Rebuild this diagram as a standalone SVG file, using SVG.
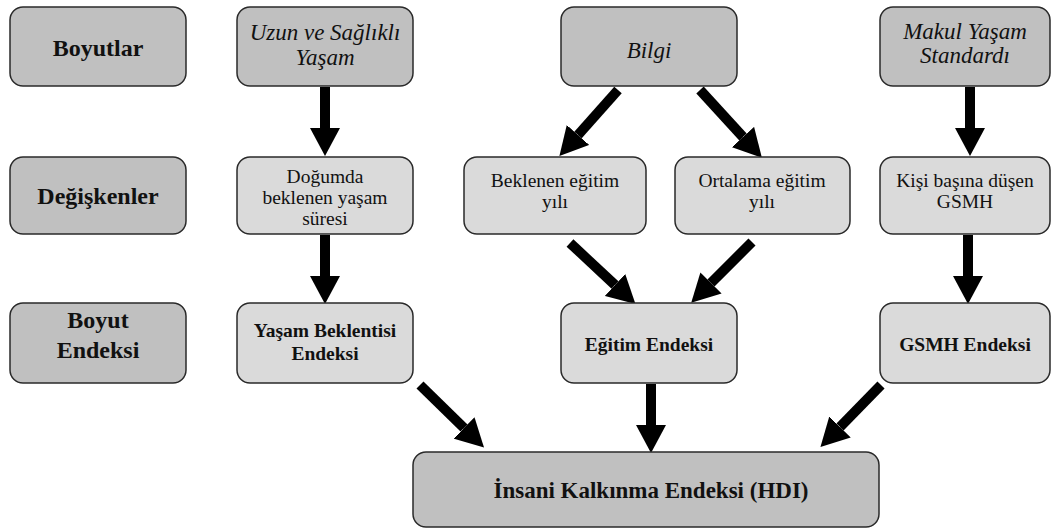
<svg xmlns="http://www.w3.org/2000/svg" width="1058" height="529" viewBox="0 0 1058 529">
<defs>
<style>
.dk{fill:#c0c0c0;stroke:#2a2a2a;stroke-width:1.5}
.lt{fill:#dadada;stroke:#2a2a2a;stroke-width:1.5}
text{fill:#111;text-anchor:middle;font-family:'Liberation Serif',Tinos,'Times New Roman',Times,'DejaVu Serif','Noto Serif',FreeSerif,serif}
.hb{font-weight:bold;font-size:24px}
.it{font-style:italic;font-size:23px}
.rg{font-size:19.5px}
.sb{font-weight:bold;font-size:19.5px}
.hdi{font-weight:bold;font-size:23px}
.ar{stroke:#000;stroke-width:10;fill:none;marker-end:url(#ah)}
</style>
<marker id="ah" markerUnits="userSpaceOnUse" viewBox="0 -15 28 30" refX="0" refY="0" markerWidth="28" markerHeight="30" orient="auto">
<path d="M0,-15 L28,0 L0,15 Z" fill="#000"/>
</marker>
</defs>
<g id="connectors">
<line class="ar" x1="325" y1="87" x2="325" y2="128"/>
<line class="ar" x1="618" y1="90" x2="578" y2="135"/>
<line class="ar" x1="700" y1="90" x2="743" y2="137"/>
<line class="ar" x1="970" y1="87" x2="970" y2="128"/>
<line class="ar" x1="325" y1="235" x2="325" y2="276"/>
<line class="ar" x1="570" y1="243" x2="615" y2="285"/>
<line class="ar" x1="752" y1="242" x2="711" y2="283"/>
<line class="ar" x1="968" y1="235" x2="968" y2="276"/>
<line class="ar" x1="420" y1="385" x2="464" y2="428"/>
<line class="ar" x1="651" y1="384" x2="651" y2="425"/>
<line class="ar" x1="881" y1="385" x2="840" y2="427"/>
</g>
<g id="n-boyutlar"><rect class="dk" x="10" y="7" width="176" height="79" rx="13"/><text class="hb" x="98" y="56">Boyutlar</text></g>
<g id="n-uzun"><rect class="dk" x="237" y="7" width="176" height="79" rx="13"/><text class="it" x="325" y="40">Uzun ve Sağlıklı</text><text class="it" x="325" y="65">Yaşam</text></g>
<g id="n-bilgi"><rect class="dk" x="561" y="7" width="176" height="79" rx="13"/><text class="it" x="649" y="58">Bilgi</text></g>
<g id="n-makul"><rect class="dk" x="880" y="7" width="170" height="79" rx="13"/><text class="it" x="965" y="39">Makul Yaşam</text><text class="it" x="965" y="63">Standardı</text></g>
<g id="n-degiskenler"><rect class="dk" x="10" y="157" width="176" height="77" rx="13"/><text class="hb" x="98" y="204">Değişkenler</text></g>
<g id="n-dogumda"><rect class="lt" x="237" y="157" width="176" height="77" rx="13"/><text class="rg" x="325" y="183">Doğumda</text><text class="rg" x="325" y="204">beklenen yaşam</text><text class="rg" x="325" y="225">süresi</text></g>
<g id="n-beklenen"><rect class="lt" x="464" y="157" width="182" height="77" rx="13"/><text class="rg" x="555" y="187">Beklenen eğitim</text><text class="rg" x="555" y="208">yılı</text></g>
<g id="n-ortalama"><rect class="lt" x="675" y="157" width="175" height="77" rx="13"/><text class="rg" x="762" y="187">Ortalama eğitim</text><text class="rg" x="762" y="208">yılı</text></g>
<g id="n-kisi"><rect class="lt" x="880" y="157" width="170" height="77" rx="13"/><text class="rg" x="965" y="187">Kişi başına düşen</text><text class="rg" x="965" y="208">GSMH</text></g>
<g id="n-boyut-endeksi"><rect class="dk" x="10" y="303" width="176" height="80" rx="13"/><text class="hb" x="98" y="328">Boyut</text><text class="hb" x="98" y="358">Endeksi</text></g>
<g id="n-yasam"><rect class="lt" x="237" y="303" width="176" height="80" rx="13"/><text class="sb" x="325" y="337">Yaşam Beklentisi</text><text class="sb" x="325" y="360">Endeksi</text></g>
<g id="n-egitim"><rect class="lt" x="561" y="303" width="176" height="80" rx="13"/><text class="sb" x="649" y="351">Eğitim Endeksi</text></g>
<g id="n-gsmh"><rect class="lt" x="880" y="303" width="170" height="80" rx="13"/><text class="sb" x="965" y="351">GSMH Endeksi</text></g>
<g id="n-hdi"><rect class="dk" x="413" y="452" width="466" height="75" rx="13"/><text class="hdi" x="651" y="498">İnsani Kalkınma Endeksi (HDI)</text></g>
</svg>
